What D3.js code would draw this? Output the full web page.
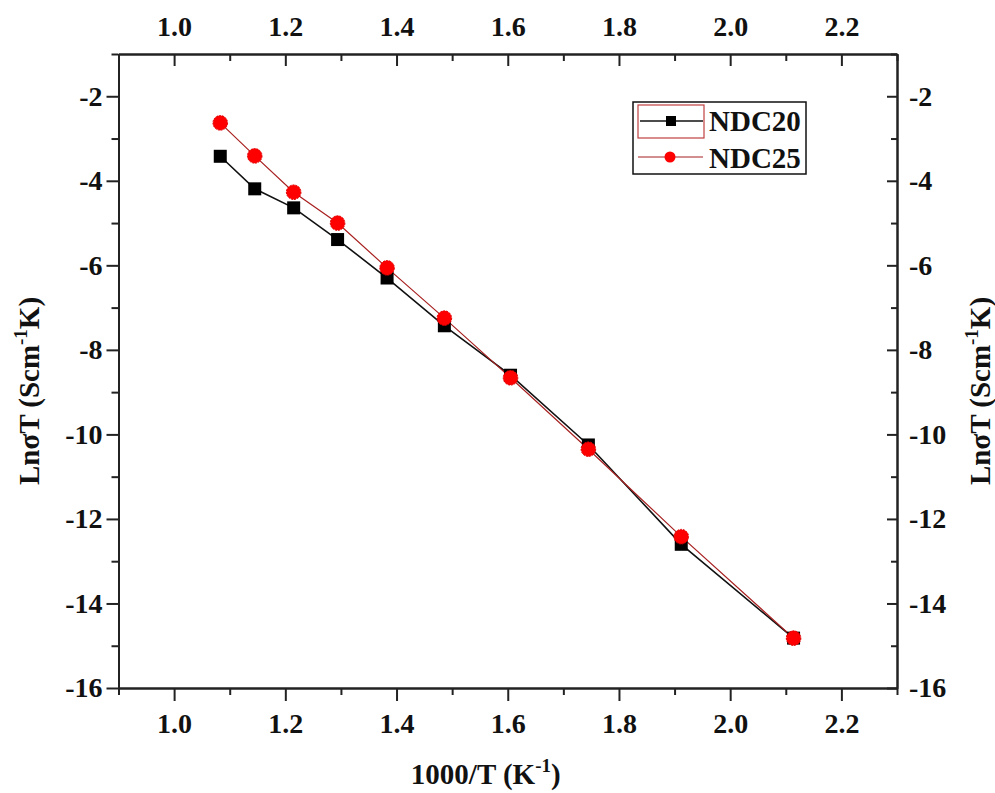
<!DOCTYPE html>
<html><head><meta charset="utf-8">
<script src="https://cdn.jsdelivr.net/npm/d3@7"></script>
<style>body{margin:0;background:#fff}svg{display:block}text{font-family:"Liberation Serif","Times New Roman",serif !important;font-weight:bold;fill:#111}</style>
</head><body><svg id="c" width="995" height="793"></svg>
<script>
const invT = [1.083,1.145,1.215,1.294,1.383,1.486,1.605,1.745,1.912,2.114];
const ndc20 = [-3.42,-4.19,-4.64,-5.39,-6.30,-7.43,-8.60,-10.25,-12.60,-14.82];
const ndc25 = [-2.63,-3.41,-4.27,-5.00,-6.06,-7.25,-8.66,-10.35,-12.42,-14.82];
const xMajor = [1.0,1.2,1.4,1.6,1.8,2.0,2.2];
const xMinor = [0.9,1.1,1.3,1.5,1.7,1.9,2.1,2.3];
const yMajor = [-16,-14,-12,-10,-8,-6,-4,-2];
const yMinor = [-15,-13,-11,-9,-7,-5,-3,-1];
const seriesNames = ["NDC20","NDC25"];

const L=118.5, R=897, T=54, B=688;
const FS=28;
const svg=d3.select("#c");
const x=d3.scaleLinear().domain([0.9,2.3]).range([L,R]);
const y=d3.scaleLinear().domain([-16,-1]).range([B,T]);
const fmtX=d=>d.toFixed(1);
const fmtY=d=>String(d);
const axStyle=g=>{g.attr("font-family",null);g.select(".domain").attr("stroke","#222").attr("stroke-width",2);g.selectAll(".tick line").attr("stroke","#222").attr("stroke-width",2);g.selectAll("text").style("font-size",FS+"px").style("font-family","'Liberation Serif',serif").style("font-weight","bold").attr("fill","#111");};
const noText=g=>g.selectAll("text").remove();

// bottom: outward
svg.append("g").attr("transform",`translate(0,${B})`).call(d3.axisBottom(x).tickValues(xMajor).tickFormat(fmtX).tickSize(13).tickPadding(12).tickSizeOuter(0)).call(axStyle);
svg.append("g").attr("transform",`translate(0,${B})`).call(d3.axisBottom(x).tickValues(xMinor).tickSize(7).tickSizeOuter(0)).call(axStyle).call(noText);
// top: inward ticks, labels above
svg.append("g").attr("transform",`translate(0,${T})`).call(d3.axisBottom(x).tickValues(xMajor).tickFormat(fmtX).tickSize(12).tickSizeOuter(0)).call(axStyle).call(g=>g.selectAll("text").attr("y",-38).attr("dy","0.71em"));
svg.append("g").attr("transform",`translate(0,${T})`).call(d3.axisBottom(x).tickValues(xMinor).tickSize(7).tickSizeOuter(0)).call(axStyle).call(noText);
// left: outward
svg.append("g").attr("transform",`translate(${L},0)`).call(d3.axisLeft(y).tickValues(yMajor).tickFormat(fmtY).tickSize(12).tickPadding(4).tickSizeOuter(0)).call(axStyle);
svg.append("g").attr("transform",`translate(${L},0)`).call(d3.axisLeft(y).tickValues(yMinor).tickSize(7).tickSizeOuter(0)).call(axStyle).call(noText);
// right: inward ticks, labels right
svg.append("g").attr("transform",`translate(${R},0)`).call(d3.axisLeft(y).tickValues(yMajor).tickFormat(fmtY).tickSize(10).tickSizeOuter(0)).call(axStyle).call(g=>g.selectAll("text").attr("x",12).attr("text-anchor","start"));
svg.append("g").attr("transform",`translate(${R},0)`).call(d3.axisLeft(y).tickValues(yMinor).tickSize(6).tickSizeOuter(0)).call(axStyle).call(noText);

// titles
const xt=svg.append("text").attr("x",(L+R)/2-22).attr("y",784).attr("text-anchor","middle").style("font-size","29px");
xt.append("tspan").text("1000/T (K");
xt.append("tspan").attr("dy",-12).style("font-size","19px").text("-1");
xt.append("tspan").attr("dy",12).text(")");
function yTitle(cx){
  const t=svg.append("text").attr("transform",`translate(${cx},${(T+B)/2+20}) rotate(-90)`).attr("text-anchor","middle").style("font-size","29px");
  t.append("tspan").text("LnσT (Scm");
  t.append("tspan").attr("dy",-12).style("font-size","19px").text("-1");
  t.append("tspan").attr("dy",12).text("K)");
}
yTitle(39); yTitle(990);

// data
const pts20=invT.map((v,i)=>[v,ndc20[i]]);
const pts25=invT.map((v,i)=>[v,ndc25[i]]);
const line=d3.line().x(d=>x(d[0])).y(d=>y(d[1]));
svg.append("path").datum(pts20).attr("d",line).attr("fill","none").attr("stroke","#111").attr("stroke-width",1.6);
svg.append("path").datum(pts25).attr("d",line).attr("fill","none").attr("stroke","#a82020").attr("stroke-width",1.2);
svg.selectAll(".sq").data(pts20).join("rect").attr("x",d=>x(d[0])-6.5).attr("y",d=>y(d[1])-6.5).attr("width",13).attr("height",13).attr("fill","#000");
svg.selectAll(".ci").data(pts25).join("circle").attr("cx",d=>x(d[0])).attr("cy",d=>y(d[1])).attr("r",7.3).attr("fill","#f00").attr("stroke","#e00000").attr("stroke-width",1).attr("stroke-dasharray","2,1");

// legend
const lg=svg.append("g");
lg.append("rect").attr("x",633).attr("y",102).attr("width",173).attr("height",72).attr("fill","#fff").attr("stroke","#111").attr("stroke-width",1.5);
lg.append("rect").attr("x",638).attr("y",105).attr("width",66).attr("height",33).attr("fill","none").attr("stroke","#c04040").attr("stroke-width",1.2);
lg.append("line").attr("x1",640).attr("x2",703).attr("y1",121).attr("y2",121).attr("stroke","#111").attr("stroke-width",1.5);
lg.append("rect").attr("x",666).attr("y",116).attr("width",10).attr("height",10).attr("fill","#000");
lg.append("line").attr("x1",638).attr("x2",703).attr("y1",157).attr("y2",157).attr("stroke","#a82020").attr("stroke-width",1.2);
lg.append("circle").attr("cx",670).attr("cy",157).attr("r",5.5).attr("fill","#f00");
lg.selectAll(".lt").data(seriesNames).join("text").attr("x",709).attr("y",(d,i)=>131+i*37).style("font-size","29px").text(d=>d);
</script></body></html>
